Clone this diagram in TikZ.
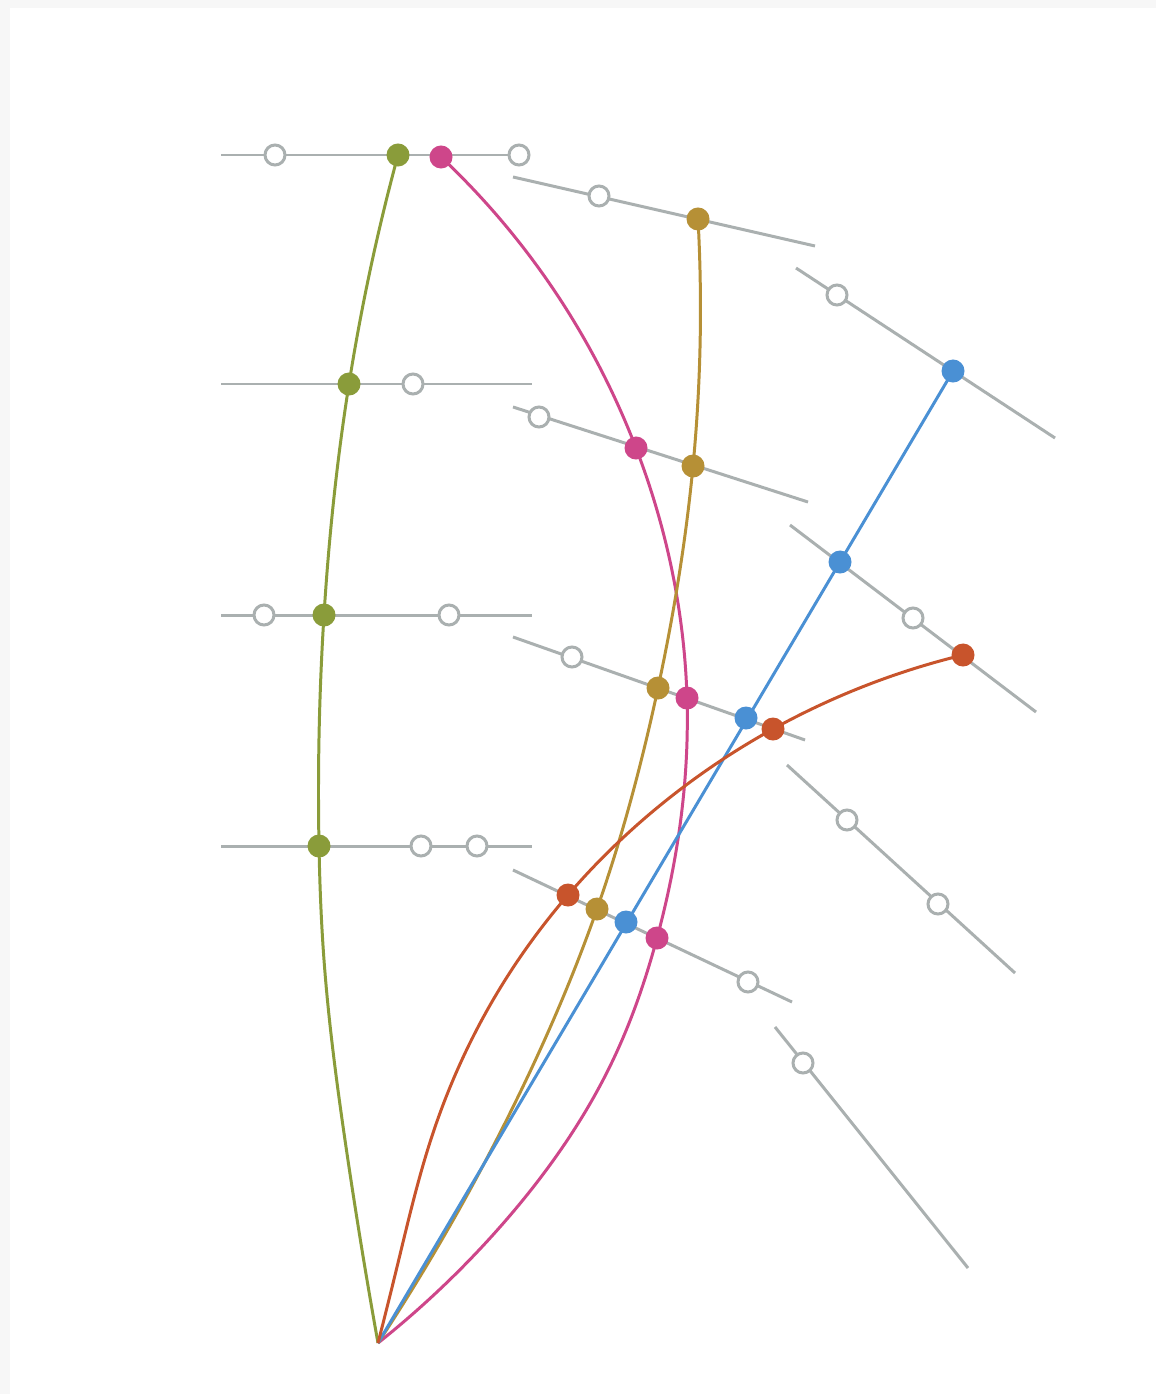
\documentclass[tikz,border=0pt]{standalone}
\usetikzlibrary{hobby}
\definecolor{trackgray}{RGB}{170,176,176}
\definecolor{olive}{RGB}{138,156,58}
\definecolor{rose}{RGB}{206,70,138}
\definecolor{ochre}{RGB}{182,144,54}
\definecolor{sky}{RGB}{74,144,212}
\definecolor{rust}{RGB}{200,84,44}
\begin{document}
\begin{tikzpicture}[x=0.01cm,y=-0.01cm,
  track/.style={draw=trackgray,line width=0.85pt},
  route/.style={line width=0.85pt,use Hobby shortcut},
  stop/.style={circle,draw=trackgray,fill=white,line width=0.85pt,inner sep=0pt,minimum size=0.2cm},
  dot/.style={circle,fill=#1,inner sep=0pt,minimum size=0.23cm}]
\useasboundingbox (0,0) rectangle (1156,1394);
\fill[black!3] (0,0) rectangle (1156,1394);
\fill[white] (10,8) rectangle (1156,1394);

% tracks
\coordinate (h1a) at (221,155); \coordinate (h1b) at (530,155);
\coordinate (h2a) at (221,384); \coordinate (h2b) at (532,384);
\coordinate (h3a) at (221,615); \coordinate (h3b) at (532,615);
\coordinate (h4a) at (221,846); \coordinate (h4b) at (532,846);
\coordinate (m1a) at (513,177); \coordinate (m1b) at (815,246);
\coordinate (m2a) at (513,407); \coordinate (m2b) at (808,502);
\coordinate (m3a) at (513,637); \coordinate (m3b) at (805,740);
\coordinate (m4a) at (513,870); \coordinate (m4b) at (792,1002);
\coordinate (s1a) at (796,268); \coordinate (s1b) at (1055,438);
\coordinate (s2a) at (790,525); \coordinate (s2b) at (1036,712);
\coordinate (s3a) at (787,765); \coordinate (s3b) at (1015,973);
\coordinate (s4a) at (775,1027); \coordinate (s4b) at (968,1268);
\foreach \t in {h1,h2,h3,h4,m1,m2,m3,m4,s1,s2,s3,s4}
{
    \draw[track] (\t a) -- (\t b);
}

% route points
\coordinate (apex) at (378,1343);
\coordinate (g1) at (398,155); \coordinate (g2) at (349,384);
\coordinate (g3) at (324,615); \coordinate (g4) at (319,846);
\coordinate (g5) at (324,960); \coordinate (g6) at (345,1140);
\coordinate (p1) at (441,157); \coordinate (p1a) at (540,270);
\coordinate (p2) at (636,448);
\coordinate (p3) at (687,698); \coordinate (p4) at (657,938);
\coordinate (p5) at (613,1060); \coordinate (p6) at (500,1227);
\coordinate (o1) at (698,219); \coordinate (o2) at (693,466);
\coordinate (o3) at (658,688); \coordinate (o4) at (597,909);
\coordinate (o5) at (513,1107);
\coordinate (b1) at (953,371); \coordinate (b2) at (840,562);
\coordinate (b3) at (746,718); \coordinate (b4) at (626,922);
\coordinate (r1) at (963,655); \coordinate (r2) at (773,729);
\coordinate (r3) at (568,895); \coordinate (r4) at (493,1000);
\coordinate (r5) at (433,1133); \coordinate (r6) at (397,1267);

% routes
\draw[route,olive] (g1) .. (g2) .. (g3) .. (g4) .. (g5) .. (g6) .. (apex);
\draw[route,rose] (p1) .. (p1a) .. (p2) .. (p3) .. (p4) .. (p5) .. (p6) .. (apex);
\draw[route,ochre] (o1) .. (o2) .. (o3) .. (o4) .. (o5) .. (apex);
\draw[route,sky] (b1) -- (apex);
\draw[route,rust] (r1) .. (r2) .. (r3) .. (r4) .. (r5) .. (r6) .. (apex);

% open stops
\foreach \x/\y [count=\i] in {275/155,519/155,413/384,264/615,449/615,421/846,477/846,
  599/196,539/417,572/657,748/982,837/295,913/618,847/820,938/904,803/1063}
{
    \node[stop] (w\i) at (\x,\y) {};
}

% coloured stops
\foreach \c in {g1,g2,g3,g4} {\node[dot=olive] (\c dot) at (\c) {};}
\foreach \c in {p1,p2,p3,p4} {\node[dot=rose] (\c dot) at (\c) {};}
\foreach \c in {o1,o2,o3,o4} {\node[dot=ochre] (\c dot) at (\c) {};}
\foreach \c in {b1,b2,b3,b4} {\node[dot=sky] (\c dot) at (\c) {};}
\foreach \c in {r1,r2,r3} {\node[dot=rust] (\c dot) at (\c) {};}
\end{tikzpicture}
\end{document}
